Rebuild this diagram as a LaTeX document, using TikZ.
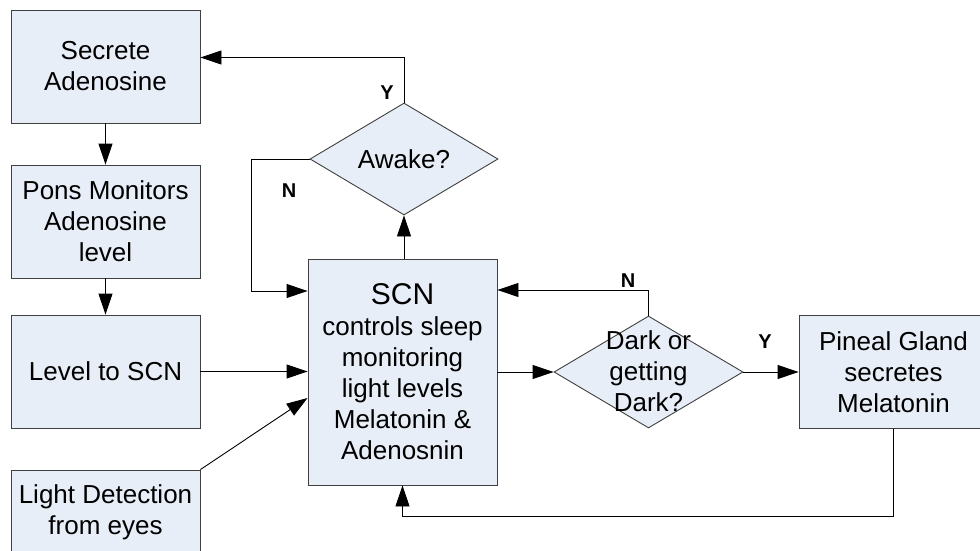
\documentclass[tikz,border=0pt]{standalone}
\usepackage{fontspec}
\setmainfont{Liberation Sans}
\usetikzlibrary{arrows.meta,shapes.geometric}
\definecolor{boxfill}{RGB}{232,238,247}
\definecolor{boxline}{RGB}{64,64,64}
\tikzset{
  procbox/.style={rectangle, draw=boxline, fill=boxfill, line width=0.9pt,
    minimum width=189pt, minimum height=113pt, inner sep=0pt, align=center,
    font=\fontsize{26}{31}\selectfont},
  decision/.style={diamond, draw=boxline, fill=boxfill, line width=0.9pt,
    inner sep=0pt},
  bodytext/.style={align=center, font=\fontsize{26}{31}\selectfont},
  flow/.style={line width=0.9pt, -{Triangle[length=21pt,width=14pt]}},
  yn/.style={font=\fontsize{20}{22}\selectfont\bfseries}
}
\begin{document}
\begin{tikzpicture}[x=1pt,y=-1pt]
\useasboundingbox (0,0) rectangle (980,551);
\clip (0,0) rectangle (980,551);

% left column
\node[procbox] (sec) at (105.5,66.5) {Secrete\\Adenosine};
\node[procbox] (pons) at (105.5,221.5) {Pons Monitors\\Adenosine\\level};
\node[procbox] (level) at (105.5,371.5) {Level to SCN};
\node[procbox, minimum height=84pt] (light) at (105.5,512) {Light Detection\\from eyes};

% central controller
\node[procbox, minimum height=226pt] (scn) at (402.5,372)
  {{\fontsize{30}{34}\selectfont SCN}\\[0pt]controls sleep\\monitoring\\light levels\\Melatonin \&\\Adenosnin};

% decisions
\node[decision, minimum width=188pt, minimum height=112pt] (awake) at (404,159) {};
\node[bodytext] at (awake) {Awake?};
\node[decision, minimum width=189pt, minimum height=112pt] (dark) at (648.5,372) {};
\node[bodytext] at ([yshift=1pt]dark) {Dark or\\getting\\Dark?};

% output
\node[procbox] (pineal) at (893.5,372) {Pineal Gland\\secretes\\Melatonin};

% connectors
\draw[flow] (sec.south) -- (pons.north);
\draw[flow] (pons.south) -- (level.north);
\draw[flow] (level.east) -- (level.east -| scn.west);
\draw[flow] (light.north east) -- ([yshift=-26pt]scn.west);
\draw[flow] (awake.south |- scn.north) -- (awake.south);
\draw[flow] (awake.north) |- ([yshift=9pt]sec.east);
\draw[flow] (awake.west) -- ++(-58,0) |- ([yshift=81pt]scn.west);
\draw[flow] (scn.east) -- (dark.west);
\draw[flow] (dark.north) |- ([yshift=82pt]scn.east);
\draw[flow] (dark.east) -- (pineal.west);
\draw[flow] (pineal.south) -- ++(0,87) -| (scn.south);

% branch labels
\node[yn] (ay) at (387,93) {Y};
\node[yn] (an) at (289,191) {N};
\node[yn] (dn) at (628,281) {N};
\node[yn] (dy) at (765,342) {Y};
\end{tikzpicture}
\end{document}
